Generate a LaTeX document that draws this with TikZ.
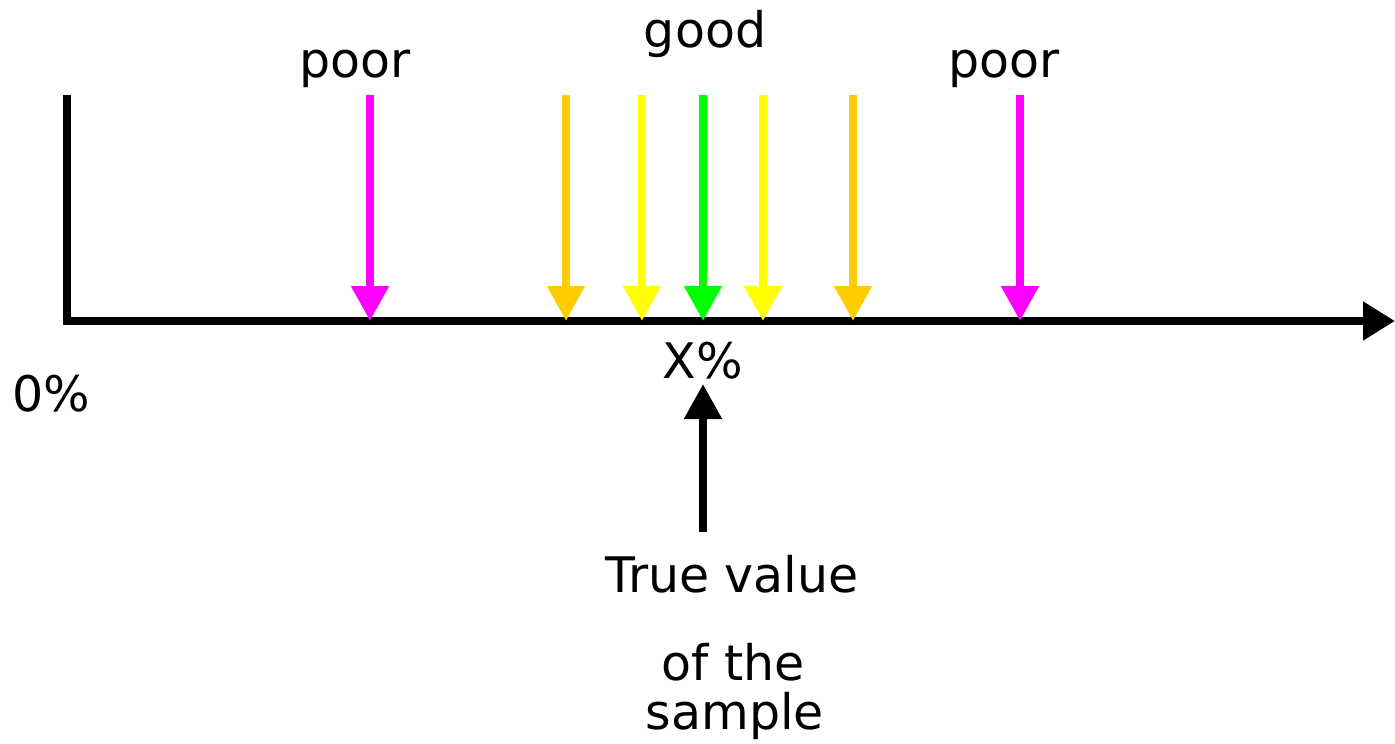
\documentclass[tikz,border=0pt]{standalone}
\usepackage{fontspec}
\setmainfont{DejaVu Sans}
\usetikzlibrary{arrows.meta}
\definecolor{mag}{HTML}{FF00FF}
\definecolor{orng}{HTML}{FFCC00}
\definecolor{yel}{HTML}{FFFF00}
\definecolor{grn}{HTML}{00FF00}
\begin{document}
\begin{tikzpicture}[x=1pt,y=-1pt,
  lbl/.style={anchor=base,inner sep=0pt,font=\fontsize{49}{58}\selectfont},
  ptr/.style={line width=8pt,-{Triangle[width=36pt,length=35pt]}},
  axis/.style={line width=8.5pt}]
\useasboundingbox (0,0) rectangle (1395,744);
% axes
\coordinate (top) at (67,95);
\coordinate (org) at (67,321);
\coordinate (xend) at (1395,321);
\draw[axis] (top) -- ([yshift=-4.25pt]org);
\draw[axis,-{Triangle[width=37pt,length=32pt]}] ([xshift=-4.25pt]org) -- (xend);
% colored arrows
\foreach \x/\c/\n in {370/mag/a,566/orng/b,642/yel/c,703/grn/d,763/yel/e,853/orng/f,1020/mag/g}{
  \coordinate (s\n) at (\x,95);
  \coordinate (t\n) at (\x,321);
  \draw[ptr,draw=\c,fill=\c] (s\n) -- (t\n);
}
% labels
\node[lbl] (poorL) at (355,77) {poor};
\node[lbl] (good) at (705,47) {good};
\node[lbl] (poorR) at (1004,77) {poor};
\node[lbl] (xpc) at (703,378) {X\%};
\node[lbl] (zero) at (51,411) {0\%};
\node[lbl] (tv1) at (732,592) {True value};
\node[lbl] (tv2) at (733,680) {of the};
\node[lbl] (tv3) at (735,729) {sample};
% true value arrow
\coordinate (tvs) at (703,532);
\coordinate (tvt) at (703,384);
\draw[ptr,draw=black,fill=black] (tvs) -- (tvt);
\end{tikzpicture}
\end{document}
